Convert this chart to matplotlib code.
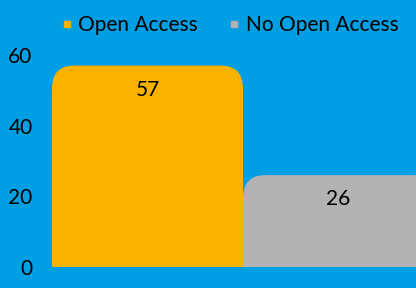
import matplotlib.pyplot as plt
from matplotlib.lines import Line2D
from matplotlib.patches import FancyBboxPatch

categories = ['Open Access', 'No Open Access']
values = [57, 26]
bar_colors = ['#F9B200', '#B2B2B2']
y_ticks = [0, 20, 40, 60]

BG = '#009EE2'
W, H = 416, 288
FS = 15

plt.rcParams['font.family'] = ['Lato', 'DejaVu Sans']

fig = plt.figure(figsize=(W / 100, H / 100), dpi=100, facecolor=BG)
# axes in pixel positions: left 52, right 416, bottom 267 (from top), top 55
ax = fig.add_axes([52 / W, (H - 267) / H, (W - 52) / W, (267 - 55) / H])
ax.set_facecolor(BG)

x = list(range(len(categories)))
bars = ax.bar(x, values, width=1.0, color=bar_colors)
ax.set_xlim(-0.5, 0.5 + 173 / 191)
ax.set_ylim(0, 60)

# swap the square bars for ones with rounded top corners
r = 0.115  # rounding in x units
aspect = (23 / 212 * 60) / r
for bar, c in zip(bars, bar_colors):
    bar.set_visible(False)
    bx, bw, bh = bar.get_x(), bar.get_width(), bar.get_height()
    p = FancyBboxPatch((bx, -r * aspect), bw, bh + r * aspect,
                       boxstyle=f'round,pad=0,rounding_size={r}',
                       mutation_aspect=aspect, facecolor=c, edgecolor='none')
    ax.add_patch(p)
    ax.annotate(f'{bh:g}', (bx + bw / 2, bh), xytext=(0, -24), textcoords='offset pixels',
                ha='center', va='center', fontsize=FS, color='black')

ax.set_yticks(y_ticks)
ax.set_xticks([])
ax.tick_params(axis='y', length=0, pad=14, labelsize=FS, colors='black')
for s in ax.spines.values():
    s.set_visible(False)

handles = [Line2D([], [], marker='s', linestyle='', color=c, markersize=5) for c in bar_colors]
fig.legend(handles, categories, loc='center', bbox_to_anchor=(229 / W, 1 - 25 / H), ncol=2,
           frameon=False, fontsize=FS, handletextpad=0.2, columnspacing=1.4, handlelength=0.7)

fig.savefig('out.png', dpi=100, facecolor=BG)
